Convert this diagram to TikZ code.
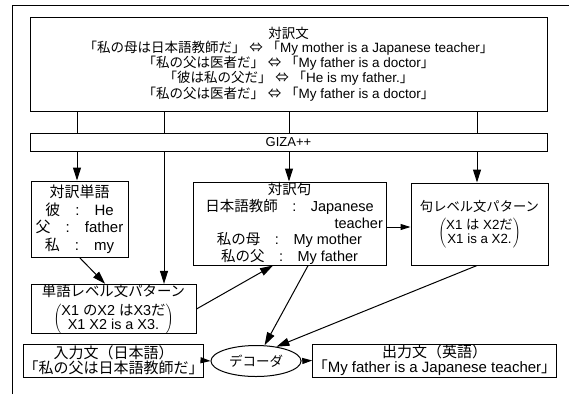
\documentclass[tikz,border=0pt]{standalone}
\usepackage{fontspec}
\setmainfont{Liberation Sans}
\newfontfamily\jpfont{Noto Sans CJK JP}
\newcommand{\J}[1]{{\jpfont #1}}
\usetikzlibrary{arrows.meta,shapes.geometric,calc}
\begin{document}
\begin{tikzpicture}[x=1pt,y=-1pt,line width=1pt,
  box/.style={draw,rectangle,inner sep=0pt,align=center},
  arr/.style={-{Triangle[length=13pt,width=8pt]}},
  sarr/.style={-{Triangle[length=10pt,width=6pt]}}]
\useasboundingbox (0,0) rectangle (569,394);
% outer frame
\coordinate (fa) at (12,394);
\coordinate (fb) at (12,5);
\coordinate (fc) at (569,5);
\draw (fa) -- (fb) -- (fc);

\node[box,minimum width=517pt,minimum height=94pt,font=\fontsize{13.5}{14}\selectfont] (top) at (288.5,64)
 {\J{対訳文}\\
  \J{「私の母は日本語教師だ」} \J{⇔} \J{「}My mother is a Japanese teacher\J{」}\\
  \J{「私の父は医者だ」} \J{⇔} \J{「}My father is a doctor\J{」}\\
  \J{「彼は私の父だ」} \J{⇔} \J{「}He is my father.\J{」}\\
  \J{「私の父は医者だ」} \J{⇔} \J{「}My father is a doctor\J{」}};

\node[box,minimum width=517pt,minimum height=18pt,font=\fontsize{13}{14}\selectfont] (giza) at (288.5,142) {GIZA++};

\node[box,minimum width=97pt,minimum height=76pt,font=\fontsize{15}{17.5}\selectfont] (wt) at (79.5,219)
 {\J{対訳単語}\\
  \J{彼}\quad:\quad He\\
  \J{父}\quad:\quad father\\
  \J{私}\quad:\quad my};

\node[box,minimum width=193pt,minimum height=83pt,font=\fontsize{14.5}{16.75}\selectfont] (pt) at (289.5,223.5)
 {\J{対訳句}\\
  \J{日本語教師}\quad:\quad Japanese\\
  \makebox[0pt][l]{\hspace*{45pt}teacher}\\
  \J{私の母}\quad:\quad My mother\\
  \J{私の父}\quad:\quad My father};

\node[box,minimum width=137pt,minimum height=82pt,font=\fontsize{13.3}{14}\selectfont] (ppat) at (479.5,224)
 {\J{句レベル文パターン}\\[5pt]
  $\left(\fontsize{13.3}{13.5}\selectfont\begin{tabular}{@{}c@{}}X1 \J{は} X2\J{だ}\\X1 is a X2.\end{tabular}\right)$};

\node[box,minimum width=165pt,minimum height=48pt,font=\fontsize{14.4}{15}\selectfont] (wpat) at (113.5,309)
 {\J{単語レベル文パターン}\\[5pt]
  $\left(\fontsize{14.4}{13}\selectfont\begin{tabular}{@{}c@{}}X1 \J{の}X2 \J{は}X3\J{だ}\\X1 X2 is a X3.\end{tabular}\right)$};

\node[box,minimum width=165pt,minimum height=33pt,font=\fontsize{15}{14}\selectfont] (inp) at (113.5,360.5)
 {\J{入力文（日本語）}\\ \J{「私の父は日本語教師だ」}};

\node[draw,ellipse,inner sep=0pt,minimum width=90pt,minimum height=31pt,font=\fontsize{13.5}{14}\selectfont] (dec) at (256,361) {\J{デコーダ}};

\node[box,minimum width=227pt,minimum height=33pt,font=\fontsize{15}{14}\selectfont] (out) at (434.5,360.5)
 {\J{出力文（英語）}\\ \J{「}My father is a Japanese teacher\J{」}};

% column coordinates
\coordinate (c1) at (77,0);
\coordinate (c2) at (164,0);
\coordinate (c3) at (289,0);
\coordinate (c4) at (477,0);
\coordinate (ty) at (0,227);

\foreach \c in {c1,c2,c3,c4} \draw (top.south -| \c) -- (giza.north -| \c);
\draw[arr] (giza.south -| c1) -- (wt.north -| c1);
\draw[arr] (giza.south -| c2) -- (wpat.north -| c2);
\draw[arr] (giza.south -| c3) -- (pt.north -| c3);
\draw[arr] (giza.south -| c4) -- (ppat.north -| c4);

\draw[arr] (wt.south) -- ($(wpat.north west)!0.45!(wpat.north east)$);
\draw[arr] (wpat.east) -- ($(pt.south west)!0.415!(pt.south east)$);
\draw[sarr] (pt.east |- ty) -- (ppat.west |- ty);
\draw[arr] ($(pt.south west)!0.596!(pt.south east)$) -- (dec);
\draw[arr] (ppat.south -| c4) -- (dec.35);
\draw[sarr] (inp.east) -- (dec.west);
\draw[sarr] (dec.east) -- (out.west);
\end{tikzpicture}
\end{document}
